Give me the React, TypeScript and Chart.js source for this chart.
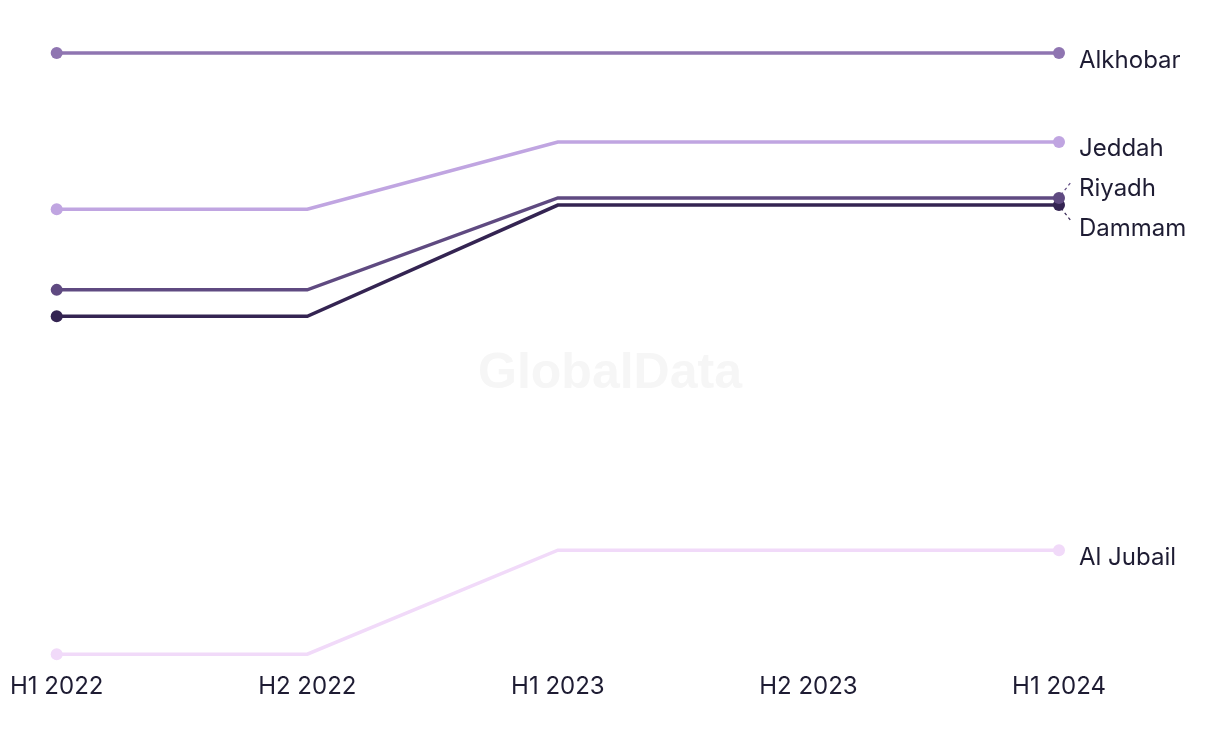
import React, { useEffect, useRef } from "react";
import { Chart, registerables } from "chart.js";

Chart.register(...registerables);

const periods = ["H1 2022", "H2 2022", "H1 2023", "H2 2023", "H1 2024"];
const seriesNames = ["Alkhobar", "Jeddah", "Riyadh", "Dammam", "Al Jubail"];
const alkhobar = [100, 100, 100, 100, 100];
const jeddah = [74.0, 74.0, 85.2, 85.2, 85.2];
const riyadh = [60.6, 60.6, 75.9, 75.9, 75.9];
const dammam = [56.2, 56.2, 74.7, 74.7, 74.7];
const alJubail = [0, 0, 17.3, 17.3, 17.3];
const seriesColors = ["#8f75b1", "#c0a5e1", "#5f4a81", "#342452", "#f1daf9"];
// baseline offsets of the end labels relative to their point
const labelBaselines = [15, 14, -2, 31, 15];
const leaderDirs = [0, 0, -1, 1, 0];

const FONT = "Inter, 'Noto Sans', sans-serif";

const endLabels = {
  id: "endLabels",
  afterDatasetsDraw(chart: any) {
    const ctx = chart.ctx;
    ctx.save();
    ctx.font = `24px ${FONT}`;
    ctx.textBaseline = "alphabetic";
    ctx.textAlign = "left";
    chart.data.datasets.forEach((ds: any, i: number) => {
      const meta = chart.getDatasetMeta(i);
      const pt = meta.data[meta.data.length - 1];
      const dir = leaderDirs[i];
      if (dir !== 0) {
        ctx.strokeStyle = ds.borderColor;
        ctx.lineWidth = 1.2;
        ctx.setLineDash([3, 3]);
        ctx.beginPath();
        ctx.moveTo(pt.x + 2, pt.y + dir * 3);
        ctx.lineTo(pt.x + 13, pt.y + dir * 17);
        ctx.stroke();
        ctx.setLineDash([]);
      }
      ctx.fillStyle = "#1e1c33";
      ctx.fillText(ds.label, pt.x + 20, pt.y + labelBaselines[i]);
    });
    ctx.restore();
  },
};

const watermark = {
  id: "watermark",
  beforeDatasetsDraw(chart: any) {
    const ctx = chart.ctx;
    ctx.save();
    ctx.font = "bold 50px 'Liberation Sans', Arial, sans-serif";
    ctx.fillStyle = "#f6f6f6";
    ctx.textAlign = "center";
    ctx.textBaseline = "middle";
    ctx.fillText("GlobalData", 610, 374);
    ctx.restore();
  },
};

export default function App() {
  const ref = useRef<HTMLCanvasElement>(null);
  useEffect(() => {
    const values = [alkhobar, jeddah, riyadh, dammam, alJubail];
    const chart = new Chart(ref.current!, {
      type: "line",
      data: {
        labels: periods,
        datasets: values.map((v, i) => ({
          label: seriesNames[i],
          data: v,
          borderColor: seriesColors[i],
          backgroundColor: seriesColors[i],
          borderWidth: 3.5,
          pointRadius: [6, 0, 0, 0, 6],
          pointHoverRadius: [6, 0, 0, 0, 6],
          pointBorderWidth: 0,
          tension: 0,
          clip: false,
        })),
      },
      options: {
        animation: false,
        responsive: false,
        maintainAspectRatio: false,
        layout: { padding: { left: 7, right: 161, top: 53, bottom: 33 } },
        plugins: { legend: { display: false }, tooltip: { enabled: false } },
        scales: {
          x: {
            offset: false,
            grid: { display: false },
            border: { display: false },
            ticks: {
              color: "#1e1c33",
              font: { family: FONT, size: 24 },
              padding: 10,
              maxRotation: 0,
              autoSkip: false,
            },
          },
          y: {
            display: false,
            min: 0,
            max: 100,
          },
        },
      },
      plugins: [watermark, endLabels],
    });
    return () => chart.destroy();
  }, []);
  return (
    <div style={{ position: "fixed", left: 0, top: 0, width: 1220, height: 744, background: "#fff" }}>
      <canvas ref={ref} width={1220} height={744} style={{ width: 1220, height: 744 }} />
    </div>
  );
}
